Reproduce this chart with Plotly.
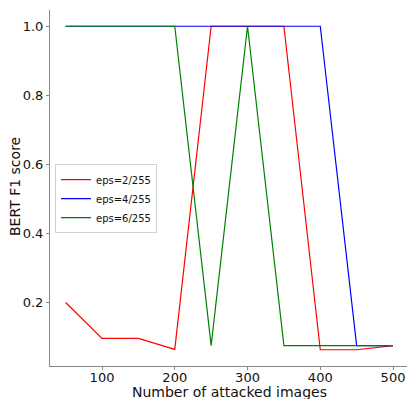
import plotly.graph_objects as go

x_vals = [50, 100, 150, 200, 250, 300, 350, 400, 450, 500]
eps2 = [0.2, 0.096, 0.096, 0.064, 1.0, 1.0, 1.0, 0.063, 0.063, 0.075]
eps4 = [1.0, 1.0, 1.0, 1.0, 1.0, 1.0, 1.0, 1.0, 0.075, 0.075]
eps6 = [1.0, 1.0, 1.0, 1.0, 0.075, 1.0, 0.075, 0.075, 0.075, 0.075]
names = ["eps=2/255", "eps=4/255", "eps=6/255"]
colors = ["#ff0000", "#0000ff", "#008000"]
x_ticks = [100, 200, 300, 400, 500]
y_ticks = [0.2, 0.4, 0.6, 0.8, 1.0]

fig = go.Figure()
for ys, name, c in zip([eps2, eps4, eps6], names, colors):
    fig.add_trace(go.Scatter(x=x_vals, y=ys, mode="lines", name=name,
                             line=dict(color=c, width=1.2)))

font = "DejaVu Sans"
tc = "#111"
fig.update_layout(
    width=407, height=399,
    margin=dict(l=50, r=0, t=10, b=33, autoexpand=False),
    plot_bgcolor="white", paper_bgcolor="white",
    font=dict(family=font, color=tc),
    showlegend=True,
    legend=dict(x=0.014, y=0.567, xanchor="left", yanchor="top",
                bgcolor="rgba(255,255,255,0.9)", bordercolor="#d0d0d0", borderwidth=1,
                font=dict(size=10, family=font, color=tc), tracegroupgap=0, itemwidth=30),
    xaxis=dict(range=[28.5, 519.2], tickvals=x_ticks, ticktext=[str(v) for v in x_ticks],
               showgrid=False, zeroline=False, showline=True, linecolor="#888", linewidth=1,
               ticks="outside", ticklen=3, tickcolor="#888", automargin=False,
               ticklabelstandoff=-4,
               tickfont=dict(size=13, family=font, color=tc)),
    yaxis=dict(range=[0.016, 1.047], tickvals=y_ticks, ticktext=["0.2", "0.4", "0.6", "0.8", "1.0"],
               showgrid=False, zeroline=False, showline=True, linecolor="#888", linewidth=1,
               ticks="outside", ticklen=3, tickcolor="#888", automargin=False,
               tickfont=dict(size=13, family=font, color=tc)),
    annotations=[
        dict(text="Number of attacked images", xref="paper", yref="paper",
             x=(229 - 50) / 357, y=-(392 - 366) / 356, xanchor="center", yanchor="middle",
             showarrow=False, font=dict(size=14, family=font, color=tc)),
        dict(text="BERT F1 score", xref="paper", yref="paper",
             x=-(50 - 15) / 357, y=(366 - 187) / 356, xanchor="center", yanchor="middle",
             textangle=-90, showarrow=False, font=dict(size=14, family=font, color=tc)),
    ],
)

fig.write_html("out.html", config={"displayModeBar": False},
               post_script="document.body.style.margin='0';document.body.style.overflow='hidden';")
